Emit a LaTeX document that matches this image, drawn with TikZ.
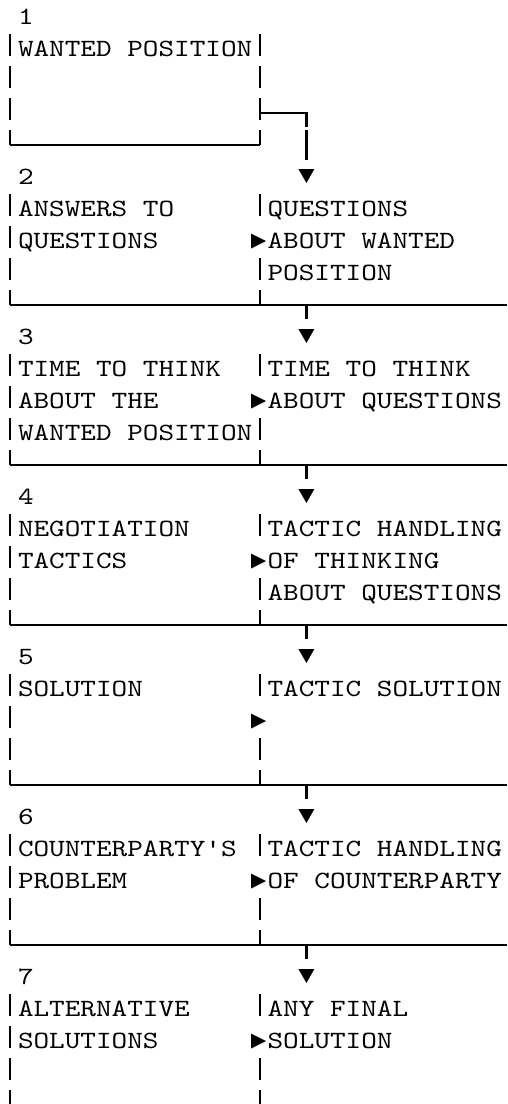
\documentclass[tikz,border=0pt]{standalone}
\usepackage{fontspec}
\setmonofont{lmmono10-regular.otf}[FakeStretch=1.2]
\begin{document}
\begin{tikzpicture}[x=1pt,y=-1pt,
  txt/.style={font=\ttfamily\fontsize{24.8}{32}\selectfont, anchor=base west, inner sep=0pt},
  bar/.style={line width=2.2pt, dash pattern=on 22pt off 10pt},
  splitbar/.style={line width=2.2pt, dash pattern=on 22pt off 42pt on 22pt off 10pt},
  rule/.style={line width=2.2pt}]
\useasboundingbox (0,0) rectangle (507,1104);

% ---- block 1: frame and its outgoing connector
\coordinate (L1) at (10,34);
\coordinate (LB1) at (10,145);
\coordinate (M1) at (259.6,34);
\coordinate (MB1) at (259.6,145);
\draw[bar] (L1) -- (LB1);
\draw[bar] (M1) -- (MB1);
\draw[rule] (LB1) -- (MB1);
\coordinate (J1) at (259.6,113);
\coordinate (K1) at (306.4,113);
\coordinate (K1b) at (306.4,127);
\coordinate (K2) at (306.4,130);
\coordinate (K2b) at (306.4,160);
\draw[rule] (J1) -- (K1) -- (K1b);
\draw[rule] (K2) -- (K2b);

% ---- blocks 2 to 6: frames with a full-width bottom rule
\foreach \n in {2,...,6}{
  \pgfmathsetmacro\yy{17+160*(\n-1)}
  \coordinate (L\n) at (10,\yy+17);
  \coordinate (M\n) at (259.6,\yy+17);
  \coordinate (LB\n) at (10,\yy+128);
  \coordinate (MB\n) at (259.6,\yy+128);
  \coordinate (RB\n) at (507,\yy+128);
  \draw[bar] (L\n) -- (LB\n);
  \draw[splitbar] (M\n) -- (MB\n);
  \draw[rule] (LB\n) -- (RB\n);
}

% ---- block 7: open frame running off the bottom
\coordinate (L7) at (10,994);
\coordinate (LB7) at (10,1104);
\coordinate (M7) at (259.6,994);
\coordinate (MB7) at (259.6,1104);
\draw[bar] (L7) -- (LB7);
\draw[splitbar] (M7) -- (MB7);

% ---- stubs below each rule, down arrows and right arrows
\foreach \n in {3,...,7}{
  \pgfmathsetmacro\yy{17+160*(\n-1)}
  \coordinate (S\n) at (306.4,\yy-32);
  \coordinate (T\n) at (306.4,\yy-18);
  \draw[rule] (S\n) -- (T\n);
}
\foreach \n in {2,...,7}{
  \pgfmathsetmacro\yy{17+160*(\n-1)}
  \coordinate (D\n) at (306.4,\yy);
  \fill (D\n) ++(-8,-8) -- ++(16,0) -- ++(-8,14) -- cycle;
  \coordinate (E\n) at (259.6,\yy+64);
  \fill (E\n) ++(-8.6,-7.5) -- ++(15,7.5) -- ++(-15,7.5) -- cycle;
}

% ---- block numbers
\node[txt] (num1) at (17.8,24.5) {1};
\node[txt] (num2) at (17.8,184.5) {2};
\node[txt] (num3) at (17.8,344.5) {3};
\node[txt] (num4) at (17.8,504.5) {4};
\node[txt] (num5) at (17.8,664.5) {5};
\node[txt] (num6) at (17.8,824.5) {6};
\node[txt] (num7) at (17.8,984.5) {7};

% ---- block texts
\node[txt] (a1) at (17.8,56.5) {WANTED POSITION};

\node[txt] (a2x) at (17.8,216.5) {ANSWERS TO};
\node[txt] (a2y) at (17.8,248.5) {QUESTIONS};
\node[txt] (b2x) at (267.4,216.5) {QUESTIONS};
\node[txt] (b2y) at (267.4,248.5) {ABOUT WANTED};
\node[txt] (b2z) at (267.4,280.5) {POSITION};

\node[txt] (a3x) at (17.8,376.5) {TIME TO THINK};
\node[txt] (a3y) at (17.8,408.5) {ABOUT THE};
\node[txt] (a3z) at (17.8,440.5) {WANTED POSITION};
\node[txt] (b3x) at (267.4,376.5) {TIME TO THINK};
\node[txt] (b3y) at (267.4,408.5) {ABOUT QUESTIONS};

\node[txt] (a4x) at (17.8,536.5) {NEGOTIATION};
\node[txt] (a4y) at (17.8,568.5) {TACTICS};
\node[txt] (b4x) at (267.4,536.5) {TACTIC HANDLING};
\node[txt] (b4y) at (267.4,568.5) {OF THINKING};
\node[txt] (b4z) at (267.4,600.5) {ABOUT QUESTIONS};

\node[txt] (a5x) at (17.8,696.5) {SOLUTION};
\node[txt] (b5x) at (267.4,696.5) {TACTIC SOLUTION};

\node[txt] (a6x) at (17.8,856.5) {COUNTERPARTY'S};
\node[txt] (a6y) at (17.8,888.5) {PROBLEM};
\node[txt] (b6x) at (267.4,856.5) {TACTIC HANDLING};
\node[txt] (b6y) at (267.4,888.5) {OF COUNTERPARTY};

\node[txt] (a7x) at (17.8,1016.5) {ALTERNATIVE};
\node[txt] (a7y) at (17.8,1048.5) {SOLUTIONS};
\node[txt] (b7x) at (267.4,1016.5) {ANY FINAL};
\node[txt] (b7y) at (267.4,1048.5) {SOLUTION};
\end{tikzpicture}
\end{document}
